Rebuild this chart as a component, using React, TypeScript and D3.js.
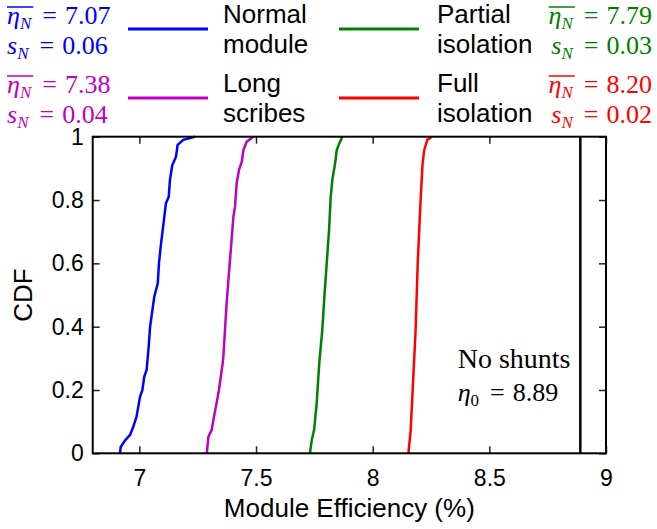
import React, { useEffect, useRef } from 'react';
import * as d3 from 'd3';

const normalEff = [6.917, 6.92, 6.938, 6.96, 6.974, 6.988, 7.003, 7.013, 7.021, 7.031, 7.04, 7.046, 7.06, 7.064, 7.079, 7.084, 7.093, 7.1, 7.114, 7.126, 7.131, 7.141, 7.157, 7.164, 7.188, 7.238];
const normalCdf = [0, 0.02, 0.04, 0.058, 0.084, 0.116, 0.179, 0.2, 0.242, 0.263, 0.337, 0.4, 0.474, 0.495, 0.537, 0.6, 0.663, 0.705, 0.79, 0.81, 0.863, 0.91, 0.937, 0.974, 0.99, 1];

const longEff = [7.289, 7.296, 7.31, 7.32, 7.331, 7.341, 7.357, 7.36, 7.367, 7.374, 7.384, 7.393, 7.403, 7.41, 7.417, 7.427, 7.439, 7.446, 7.46, 7.488];
const longCdf = [0, 0.053, 0.074, 0.116, 0.158, 0.2, 0.284, 0.305, 0.39, 0.474, 0.569, 0.653, 0.747, 0.779, 0.853, 0.895, 0.921, 0.958, 0.984, 1];

const partialEff = [7.731, 7.739, 7.749, 7.76, 7.771, 7.784, 7.793, 7.803, 7.813, 7.82, 7.827, 7.839, 7.846, 7.857, 7.87];
const partialCdf = [0, 0.042, 0.074, 0.158, 0.284, 0.39, 0.495, 0.6, 0.705, 0.81, 0.863, 0.916, 0.958, 0.979, 1];

const fullEff = [8.153, 8.163, 8.184, 8.193, 8.206, 8.214, 8.221, 8.234, 8.253];
const fullCdf = [0, 0.074, 0.39, 0.6, 0.81, 0.916, 0.958, 0.99, 1];

const seriesNames = [['Normal', 'module'], ['Long', 'scribes'], ['Partial', 'isolation'], ['Full', 'isolation']];
const seriesMeans = ['7.07', '7.38', '7.79', '8.20'];
const seriesStds = ['0.06', '0.04', '0.03', '0.02'];
const seriesColors = ['#0000ff', '#bf00bf', '#008000', '#ff0000'];

const xTicks = [7, 7.5, 8, 8.5, 9];
const yTicks = [0, 0.2, 0.4, 0.6, 0.8, 1];
const noShuntEff = 8.89;

const width = 657;
const height = 529;

const App = () => {
    const svgRef = useRef<SVGSVGElement>(null);

    useEffect(() => {
        const root = d3.select(svgRef.current);
        root.selectAll('*').remove();

        const margin = { top: 136.7, right: 51, bottom: 75.7, left: 92.7 };
        const innerWidth = width - margin.left - margin.right;
        const innerHeight = height - margin.top - margin.bottom;
        const sans = '"Liberation Sans", Arial, sans-serif';
        const serif = '"Liberation Serif", "Times New Roman", serif';

        const x = d3.scaleLinear().domain([6.8, 9]).range([0, innerWidth]);
        const y = d3.scaleLinear().domain([0, 1]).range([innerHeight, 0]);

        const g = root.append('g')
            .attr('transform', `translate(${margin.left},${margin.top})`);

        // Axes with inward ticks, mirrored on top and right
        const styleAxis = (sel: any) => {
            sel.select('.domain').remove();
            sel.selectAll('line').attr('stroke', '#222').attr('stroke-width', 1.5);
            sel.selectAll('text').attr('fill', '#000').style('font-family', sans).style('font-size', '23px');
        };

        g.append('g')
            .attr('transform', `translate(0,${innerHeight})`)
            .call(d3.axisBottom(x).tickValues(xTicks).tickSize(-7).tickPadding(16.4).tickFormat(d => String(d)))
            .call(styleAxis);
        g.append('g')
            .call(d3.axisTop(x).tickValues(xTicks).tickSize(-7).tickFormat(() => ''))
            .call(styleAxis);
        g.append('g')
            .call(d3.axisLeft(y).tickValues(yTicks).tickSize(-7).tickPadding(9).tickFormat(d => String(d)))
            .call(styleAxis);
        g.append('g')
            .attr('transform', `translate(${innerWidth},0)`)
            .call(d3.axisRight(y).tickValues(yTicks).tickSize(-7).tickFormat(() => ''))
            .call(styleAxis);

        // No-shunt reference line
        g.append('line')
            .attr('x1', x(noShuntEff)).attr('x2', x(noShuntEff))
            .attr('y1', 0).attr('y2', innerHeight)
            .attr('stroke', '#000').attr('stroke-width', 2.5);

        // CDF curves
        const line = d3.line<[number, number]>()
            .x(d => x(d[0]))
            .y(d => y(d[1]));
        const curves: [number[], number[]][] = [
            [normalEff, normalCdf], [longEff, longCdf], [partialEff, partialCdf], [fullEff, fullCdf]
        ];
        curves.forEach(([ex, cy], i) => {
            g.append('path')
                .datum(ex.map((v, k) => [v, cy[k]] as [number, number]))
                .attr('d', line)
                .attr('fill', 'none')
                .attr('stroke', seriesColors[i])
                .attr('stroke-width', 2.5)
                .attr('stroke-linejoin', 'round');
        });

        // Frame
        g.append('rect')
            .attr('width', innerWidth).attr('height', innerHeight)
            .attr('fill', 'none').attr('stroke', '#000').attr('stroke-width', 2);

        // Math-ish text: symbol, subscript, "=", value
        const mathText = (parent: any, px: number, py: number, anchor: string, sym: string, sub: string,
                          bar: boolean, val: string, color: string) => {
            const t = parent.append('text')
                .attr('x', px).attr('y', py)
                .attr('text-anchor', anchor)
                .attr('fill', color)
                .style('font-family', serif).style('font-size', '26px');
            t.append('tspan').attr('font-style', 'italic').text(sym);
            t.append('tspan').attr('font-style', sub === '0' ? 'normal' : 'italic')
                .attr('font-size', '17px').attr('dy', 5).text(sub);
            t.append('tspan').attr('dy', -5).attr('dx', 11).text('=');
            t.append('tspan').attr('dx', 8).text(val);
            if (bar) {
                const node = t.node() as SVGTextElement;
                const bb = node.getBBox();
                const w = node.getSubStringLength(0, 2);
                parent.append('line')
                    .attr('x1', bb.x).attr('x2', bb.x + w + 2)
                    .attr('y1', py - 17).attr('y2', py - 17)
                    .attr('stroke', color).attr('stroke-width', 1.5);
            }
        };

        // Annotation
        g.append('text')
            .attr('x', 365).attr('y', 231)
            .style('font-family', serif).style('font-size', '28px')
            .text('No shunts');
        mathText(g, 365, 264, 'start', 'η', '0', false, noShuntEff.toFixed(2), '#000');

        // Axis labels
        root.append('text')
            .attr('x', margin.left + innerWidth / 2).attr('y', 517)
            .attr('text-anchor', 'middle')
            .style('font-family', sans).style('font-size', '26px')
            .text('Module Efficiency (%)');
        root.append('text')
            .attr('transform', `translate(32,${margin.top + innerHeight / 2}) rotate(-90)`)
            .attr('text-anchor', 'middle')
            .style('font-family', sans).style('font-size', '26px')
            .text('CDF');

        // Legend
        const legendRows = [24, 93];
        seriesNames.forEach((name, i) => {
            const row = legendRows[i % 2];
            const right = i >= 2;
            const color = seriesColors[i];
            const lx = right ? 339 : 128;
            root.append('line')
                .attr('x1', lx).attr('x2', lx + 80)
                .attr('y1', row + 5).attr('y2', row + 5)
                .attr('stroke', color).attr('stroke-width', 3);
            const tx = right ? 437 : 223;
            name.forEach((word, k) => {
                root.append('text')
                    .attr('x', tx).attr('y', row - 1 + k * 30)
                    .style('font-family', sans).style('font-size', '26px')
                    .text(word);
            });
            const mx = right ? 652 : 7;
            const anchor = right ? 'end' : 'start';
            mathText(root, mx, row, anchor, 'η', 'N', true, seriesMeans[i], color);
            mathText(root, mx, row + 30, anchor, 's', 'N', false, seriesStds[i], color);
        });
    }, []);

    return (
        <svg
            ref={svgRef}
            width={width}
            height={height}
            style={{ position: 'absolute', left: 0, top: 0, background: '#fff' }}
        />
    );
};

export default App;
